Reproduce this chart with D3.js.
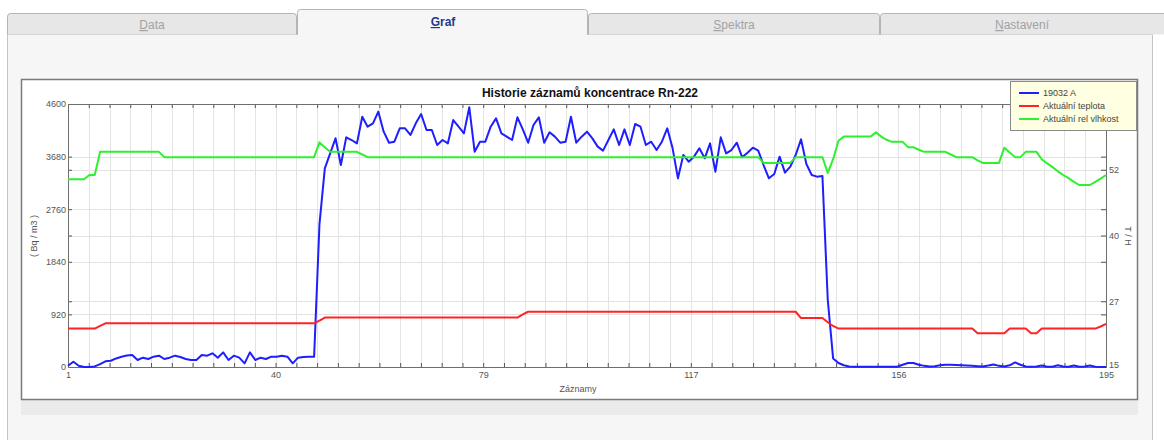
<!DOCTYPE html>
<html><head><meta charset="utf-8">
<script src="https://cdn.jsdelivr.net/npm/d3@7/dist/d3.min.js"></script>
<style>
html,body{margin:0;padding:0;background:#fff;}
svg{display:block;font-family:"Liberation Sans",Arial,sans-serif;}
</style></head>
<body><svg id="c" width="1164" height="440"></svg>
<script>
// ---- data ----
const tabs = ["Data","Graf","Spektra","Nastavení"];
const chartTitle = "Historie záznamů koncentrace Rn-222";
const seriesNames = ["19032 A","Aktuální teplota","Aktuální rel vlhkost"];
const xTickValues = [1, 39.8, 78.6, 117.4, 156.2, 195];
const xTickLabels = ["1","40","79","117","156","195"];
const leftTicks = [0, 920, 1840, 2760, 3680, 4600];
const rightTicks = [15, 27.5, 40, 52.5, 65];
const rightTickLabels = ["15","27","40","52","65"];

const radon = [
 23,93,23,0,0,10,50,100,110,150,
 180,200,210,122,163,140,181,198,140,163,
 198,175,140,122,122,210,198,239,163,256,
 122,198,163,64,256,122,163,140,181,181,
 198,181,64,163,175,181,181,2500,3475,3737,
 4000,3533,4017,3970,3912,4378,4203,4262,4466,4116,
 3923,3941,4174,4174,4058,4262,4425,4145,4145,3883,
 3970,3912,4320,4203,4087,4542,3766,3941,3941,4203,
 4349,4087,4029,3970,4367,4157,3923,4233,4367,3923,
 4105,4029,3923,3941,4378,3923,4029,4116,3999,3854,
 3784,3970,4157,3883,4157,3883,4250,4203,3883,3941,
 3795,3941,4174,3825,3300,3708,3591,3679,3825,3650,
 3912,3416,4017,3737,3795,3923,3667,3749,3836,3784,
 3533,3300,3376,3679,3399,3504,3708,3982,3551,3358,
 3329,3341,1172,150,70,30,10,5,5,5,
 5,5,5,5,5,5,40,70,70,40,
 20,10,15,30,40,40,35,30,25,20,
 15,10,25,45,20,10,30,80,40,10,
 5,10,25,5,5,30,10,5,25,5,
 10,25,5,0,0
];
const temperature = [
 22.3,22.3,22.3,22.3,22.3,22.3,22.8,23.3,23.3,23.3,
 23.3,23.3,23.3,23.3,23.3,23.3,23.3,23.3,23.3,23.3,
 23.3,23.3,23.3,23.3,23.3,23.3,23.3,23.3,23.3,23.3,
 23.3,23.3,23.3,23.3,23.3,23.3,23.3,23.3,23.3,23.3,
 23.3,23.3,23.3,23.3,23.3,23.3,23.3,23.8,24.4,24.4,
 24.4,24.4,24.4,24.4,24.4,24.4,24.4,24.4,24.4,24.4,
 24.4,24.4,24.4,24.4,24.4,24.4,24.4,24.4,24.4,24.4,
 24.4,24.4,24.4,24.4,24.4,24.4,24.4,24.4,24.4,24.4,
 24.4,24.4,24.4,24.4,24.4,25.0,25.5,25.5,25.5,25.5,
 25.5,25.5,25.5,25.5,25.5,25.5,25.5,25.5,25.5,25.5,
 25.5,25.5,25.5,25.5,25.5,25.5,25.5,25.5,25.5,25.5,
 25.5,25.5,25.5,25.5,25.5,25.5,25.5,25.5,25.5,25.5,
 25.5,25.5,25.5,25.5,25.5,25.5,25.5,25.5,25.5,25.5,
 25.5,25.5,25.5,25.5,25.5,25.5,25.5,24.3,24.3,24.3,
 24.3,24.3,23.5,22.8,22.3,22.3,22.3,22.3,22.3,22.3,
 22.3,22.3,22.3,22.3,22.3,22.3,22.3,22.3,22.3,22.3,
 22.3,22.3,22.3,22.3,22.3,22.3,22.3,22.3,22.3,22.3,
 21.4,21.4,21.4,21.4,21.4,21.4,22.3,22.3,22.3,22.3,
 21.4,21.4,22.3,22.3,22.3,22.3,22.3,22.3,22.3,22.3,
 22.3,22.3,22.3,22.7,23.2
];
const humidity = [
 50.7,50.7,50.7,50.7,51.5,51.5,55.9,55.9,55.9,55.9,
 55.9,55.9,55.9,55.9,55.9,55.9,55.9,55.9,54.9,54.9,
 54.9,54.9,54.9,54.9,54.9,54.9,54.9,54.9,54.9,54.9,
 54.9,54.9,54.9,54.9,54.9,54.9,54.9,54.9,54.9,54.9,
 54.9,54.9,54.9,54.9,54.9,54.9,54.9,57.7,56.8,55.9,
 55.9,55.9,55.9,55.9,55.9,55.4,54.9,54.9,54.9,54.9,
 54.9,54.9,54.9,54.9,54.9,54.9,54.9,54.9,54.9,54.9,
 54.9,54.9,54.9,54.9,54.9,54.9,54.9,54.9,54.9,54.9,
 54.9,54.9,54.9,54.9,54.9,54.9,54.9,54.9,54.9,54.9,
 54.9,54.9,54.9,54.9,54.9,54.9,54.9,54.9,54.9,54.9,
 54.9,54.9,54.9,54.9,54.9,54.9,54.9,54.9,54.9,54.9,
 54.9,54.9,54.9,54.9,54.9,54.9,54.9,54.9,54.9,54.9,
 54.9,54.9,54.9,54.9,54.9,54.9,54.9,54.9,54.9,54.9,
 53.8,53.8,53.8,53.8,53.8,53.8,54.9,54.9,54.9,54.9,
 54.9,54.9,51.9,54.5,58.0,58.8,58.8,58.8,58.8,58.8,
 58.8,59.6,58.8,58.2,57.8,57.8,57.8,56.8,56.8,56.3,
 55.9,55.9,55.9,55.9,55.9,55.4,54.9,54.9,54.9,54.9,
 54.3,53.8,53.8,53.8,53.8,56.7,55.8,54.9,54.9,55.9,
 55.9,55.9,54.5,53.7,53.0,52.2,51.5,50.9,50.2,49.6,
 49.6,49.6,50.2,50.8,51.5
];
const records = radon.map((d,i)=>i+1);

// ---- drawing ----
const svg = d3.select("#c");
const W = 1164, H = 440;
const P = {l:68, r:1106, t:104, b:367};
const colors = ["#1e1eff","#ff2424","#2ef02e"];

svg.append("rect").attr("width",W).attr("height",H).attr("fill","#ffffff");
// panel
svg.append("rect").attr("x",7.5).attr("y",34.5).attr("width",1145).attr("height",410)
  .attr("fill","#f6f6f6").attr("stroke","#c4c4c4");

// tabs
const tabX = [7, 297, 588, 880, 1172];
const tabCenters = [152, 443, 734, 1022];
tabs.forEach((t,i)=>{
  const active = i===1;
  const x0 = tabX[i], x1 = tabX[i+1];
  const top = active ? 9.5 : 13.5;
  const g = svg.append("g");
  g.append("path")
    .attr("d",`M${x0+0.5},34.5 L${x0+0.5},${top+3} Q${x0+0.5},${top} ${x0+3.5},${top} L${x1-3.5},${top} Q${x1-0.5},${top} ${x1-0.5},${top+3} L${x1-0.5},34.5`)
    .attr("fill", active ? "#f6f6f6" : "#e7e7e7").attr("stroke","#b4b4b4");
  if(active){
    g.append("line").attr("x1",x0+1).attr("x2",x1-1).attr("y1",34.5).attr("y2",34.5).attr("stroke","#f6f6f6").attr("stroke-width",1.5);
  }
  const tx = g.append("text").attr("x",tabCenters[i]).attr("y", active?26:29)
    .attr("text-anchor","middle").attr("font-size",12)
    .attr("font-weight", active?"bold":"normal")
    .attr("fill", active?"#1c3a8e":"#a2a2a2");
  tx.append("tspan").attr("text-decoration","underline").text(t[0]);
  tx.append("tspan").text(t.slice(1));
});

// chart frame + shadow band
svg.append("rect").attr("x",21).attr("y",400).attr("width",1117).attr("height",15).attr("fill","#ebebeb");
svg.append("rect").attr("x",21.5).attr("y",79.5).attr("width",1116).attr("height",320)
  .attr("fill","#ffffff").attr("stroke","#7a7a7a").attr("stroke-width",1.5);

// scales
const x = d3.scaleLinear().domain([1,195]).range([P.l,P.r]);
const yL = d3.scaleLinear().domain([0,4600]).range([P.b,P.t]);
const yR = d3.scaleLinear().domain([15,65]).range([P.b,P.t]);
const gridX = d3.range(51).map(k => 1 + k*194/50);

// grid
const grid = svg.append("g").attr("stroke","#e3e3e3").attr("stroke-width",1);
gridX.forEach(v=>grid.append("line").attr("x1",Math.round(x(v))+0.5).attr("x2",Math.round(x(v))+0.5).attr("y1",P.t).attr("y2",P.b));
leftTicks.forEach(v=>grid.append("line").attr("x1",P.l).attr("x2",P.r).attr("y1",Math.round(yL(v))+0.5).attr("y2",Math.round(yL(v))+0.5));
rightTicks.forEach(v=>grid.append("line").attr("x1",P.l).attr("x2",P.r).attr("y1",Math.round(yR(v))+0.5).attr("y2",Math.round(yR(v))+0.5));

// axes
function styleAxis(g){
  g.select(".domain").remove();
  g.selectAll(".tick line").attr("stroke","#555");
  g.selectAll(".tick text").attr("fill","#555").attr("font-size",9).attr("font-family","Liberation Sans, Arial, sans-serif");
}
const labelMap = new Map(xTickValues.map((v,i)=>[v.toFixed(2), xTickLabels[i]]));
svg.append("g").attr("transform",`translate(0,${P.b})`)
  .call(d3.axisBottom(x).tickValues(gridX).tickSize(-4).tickPadding(5)
    .tickFormat(v => labelMap.get(v.toFixed(2)) || ""))
  .call(styleAxis);
svg.append("g").attr("transform",`translate(0,${P.t})`)
  .call(d3.axisTop(x).tickValues(gridX).tickSize(-4).tickFormat(""))
  .call(styleAxis);
svg.append("g").attr("transform",`translate(${P.l},0)`)
  .call(d3.axisLeft(yL).tickValues(leftTicks).tickSize(-4).tickPadding(2).tickFormat(d3.format("d")))
  .call(styleAxis);
svg.append("g").attr("transform",`translate(${P.l},0)`)
  .call(d3.axisLeft(yR).tickValues(rightTicks).tickSize(-4).tickFormat(""))
  .call(styleAxis);
svg.append("g").attr("transform",`translate(${P.r},0)`)
  .call(d3.axisRight(yL).tickValues(leftTicks).tickSize(-5).tickFormat(""))
  .call(styleAxis);
const rAx = svg.append("g").attr("transform",`translate(${P.r},0)`)
  .call(d3.axisRight(yR).tickValues(rightTicks).tickSize(-5).tickPadding(3).tickFormat((d,i)=>rightTickLabels[i]))
  .call(styleAxis);
rAx.selectAll(".tick text").filter(d=>d===15).attr("dy","0.1em");

// plot border
svg.append("rect").attr("x",P.l+0.5).attr("y",P.t+0.5).attr("width",P.r-P.l).attr("height",P.b-P.t)
  .attr("fill","none").attr("stroke","#6e6e6e");

// lines
const lineL = d3.line().x((d,i)=>x(records[i])).y(d=>yL(d));
const lineR = d3.line().x((d,i)=>x(records[i])).y(d=>yR(d));
const plot = svg.append("g").attr("fill","none").attr("stroke-width",2).attr("stroke-linejoin","round");
plot.append("path").attr("d",lineL(radon)).attr("stroke",colors[0]);
plot.append("path").attr("d",lineR(temperature)).attr("stroke",colors[1]);
plot.append("path").attr("d",lineR(humidity)).attr("stroke",colors[2]);

// titles
svg.append("text").attr("x",590).attr("y",97).attr("text-anchor","middle")
  .attr("font-size",12).attr("font-weight","bold").attr("fill","#111").text(chartTitle);
svg.append("text").attr("x",578).attr("y",392).attr("text-anchor","middle")
  .attr("font-size",9).attr("fill","#555").text("Záznamy");
svg.append("text").attr("transform","translate(37,236) rotate(-90)").attr("text-anchor","middle")
  .attr("font-size",9).attr("fill","#555").text("( Bq / m3 )");
svg.append("text").attr("transform","translate(1125,236) rotate(90)").attr("text-anchor","middle")
  .attr("font-size",9).attr("fill","#555").text("T / H");

// legend
const lg = svg.append("g");
lg.append("rect").attr("x",1010.5).attr("y",81.5).attr("width",126).attr("height",49)
  .attr("fill","#ffffe1").attr("stroke","#8a8a8a");
seriesNames.forEach((n,i)=>{
  const yy = 93 + i*13;
  lg.append("line").attr("x1",1019).attr("x2",1039).attr("y1",yy).attr("y2",yy)
    .attr("stroke",colors[i]).attr("stroke-width",2);
  lg.append("text").attr("x",1043).attr("y",yy+3).attr("font-size",9).attr("fill","#444").text(n);
});
</script></body></html>
